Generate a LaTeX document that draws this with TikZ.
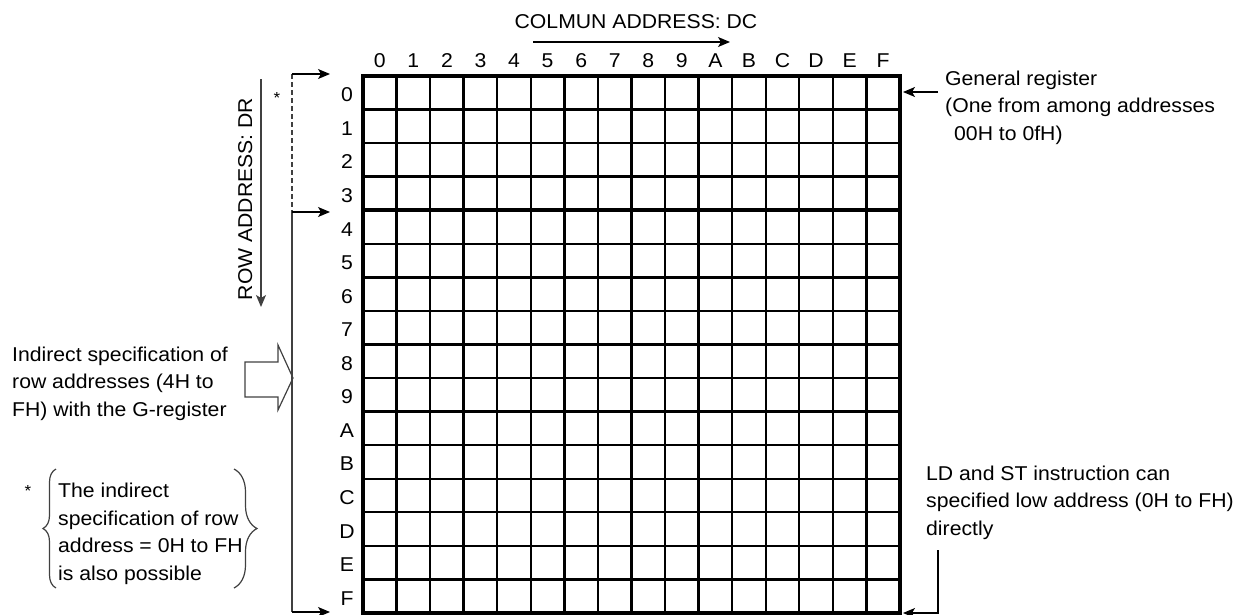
\documentclass[tikz,border=0pt]{standalone}
\usepackage{fontspec}
\setmainfont{Liberation Sans}[FakeStretch=1.06]
\usetikzlibrary{arrows.meta,decorations.pathreplacing}
\tikzset{
  ptr/.style={-{Stealth[length=12pt,width=10pt,inset=3pt]}, line width=1.2pt},
  lead/.style={line width=1.2pt, draw=black!75},
  cellline/.style={line width=2.4pt},
  frameline/.style={line width=4.2pt},
  lbl/.style={inner sep=0pt, font=\fontsize{20}{27.5}\selectfont},
  note/.style={lbl, align=left, anchor=base west},
  star/.style={inner sep=0pt, anchor=base, font=\fontsize{16}{16}\selectfont},
}
\begin{document}
\begin{tikzpicture}[x=1pt,y=-1pt]
    \useasboundingbox (0,0) rectangle (1240,614);
    \def\cw{33.56}
    \coordinate (grid-nw) at (363,76);
    \coordinate (grid-se) at (900,613);

    % memory cells
    \foreach \i in {1,...,15} {
        \draw[cellline] ({363+\i*\cw},76) -- ({363+\i*\cw},613);
        \draw[cellline] (363,{76+\i*\cw}) -- (900,{76+\i*\cw});
    }
    \draw[frameline] (grid-nw) rectangle (grid-se);
    \draw[frameline] (363,{76+4*\cw}) -- (900,{76+4*\cw});

    % column and row numbers
    \foreach \d [count=\k from 0] in {0,1,2,3,4,5,6,7,8,9,A,B,C,D,E,F} {
        \node[lbl, anchor=base] (col\d) at ({363+(\k+0.5)*\cw},67) {\d};
        \node[lbl, anchor=base] (row\d) at (347,{76+(\k+0.5)*\cw+9}) {\d};
    }

    % address directions
    \node[lbl, anchor=base] (coltitle) at (636,28) {COLMUN ADDRESS: DC};
    \coordinate (colA) at (533,42);
    \coordinate (colB) at (730,42);
    \draw[ptr] (colA) -- (colB);

    \node[lbl, rotate=90, anchor=base] (rowtitle) at (252,199) {ROW ADDRESS: DR};
    \coordinate (rowA) at (261,79);
    \coordinate (rowB) at (261,307);
    \draw[ptr, draw=black!75] (rowA) -- (rowB);

    % left bracket
    \coordinate (brk-top) at (292,74);
    \coordinate (brk-mid) at (292,212);
    \coordinate (brk-bot) at (292,612);
    \coordinate (to-top) at (330,74);
    \coordinate (to-mid) at (330,212);
    \coordinate (to-bot) at (330,612);
    \draw[lead, dash pattern=on 5pt off 3pt] (brk-top) -- (brk-mid);
    \draw[lead] (brk-mid) -- (brk-bot);
    \draw[ptr] (brk-top) -- (to-top);
    \draw[ptr] (brk-mid) -- (to-mid);
    \draw[ptr] (brk-bot) -- (to-bot);
    \node[star] (star1) at (277,103) {*};

    % indirect specification (base = last line)
    \node[note] (indirect) at (12,416)
        {Indirect specification of\\row addresses (4H to\\FH) with the G-register};
    \draw[lead] (245,362) -- (278,362) -- (278,345) -- (293,378)
        -- (278,410) -- (278,397) -- (245,397) -- cycle;

    \node[star] (star2) at (28,496) {*};
    \node[note] (starnote) at (58,580)
        {The indirect\\specification of row\\address = 0H to FH\\is also possible};
    \draw[lead, decorate, decoration={brace, amplitude=13pt}] (56,588) -- (56,469);
    \draw[lead, decorate, decoration={brace, amplitude=23pt}] (234,469) -- (234,588);

    % right notes
    \node[note] (genreg) at (945,140)
        {General register\\(One from among addresses\\\hspace*{9pt}00H to 0fH)};
    \coordinate (genreg-tail) at (938,92);
    \coordinate (genreg-tip) at (903,92);
    \draw[ptr] (genreg-tail) -- (genreg-tip);

    \node[note] (ldst) at (926,535)
        {LD and ST instruction can\\specified low address (0H to FH)\\directly};
    \coordinate (ldst-tail) at (938,550);
    \coordinate (ldst-tip) at (903,613);
    \draw[ptr] (ldst-tail) |- (ldst-tip);
\end{tikzpicture}
\end{document}
